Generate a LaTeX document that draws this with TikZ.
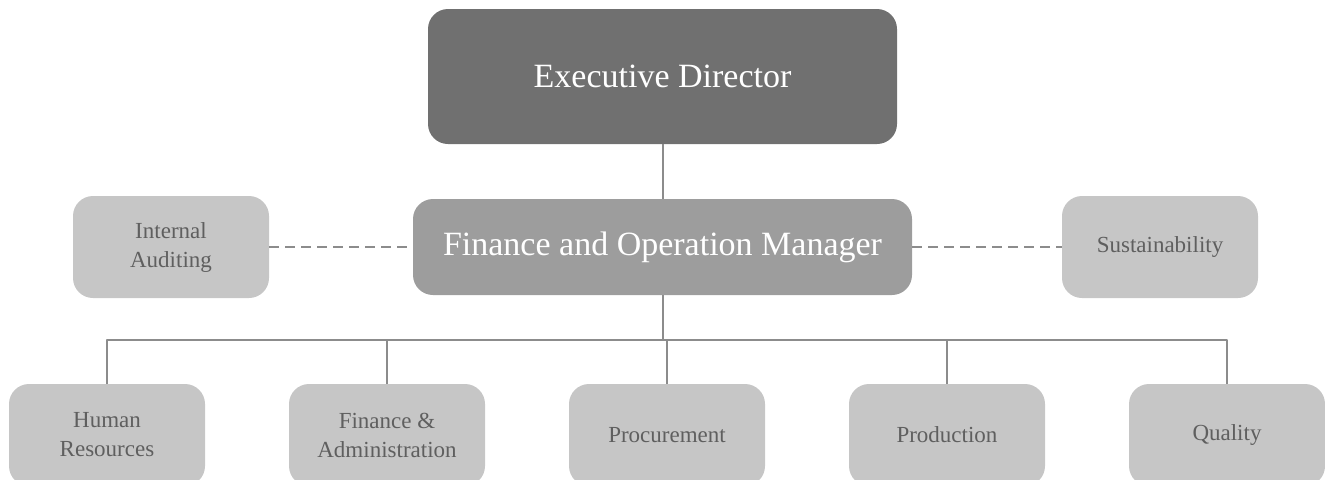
\documentclass[tikz,border=0pt]{standalone}
\usepackage{fontspec}
\setmainfont{Liberation Serif}
\definecolor{dark}{HTML}{707070}
\definecolor{mid}{HTML}{9D9D9D}
\definecolor{light}{HTML}{C6C6C6}
\definecolor{ink}{HTML}{5F5F5F}
\definecolor{wire}{HTML}{8C8C8C}
\tikzset{
  box/.style={rounded corners=10pt, inner sep=0pt, align=center},
  head/.style={box, fill=dark, text=white, minimum width=234.5pt, minimum height=67.5pt,
    font=\fontsize{17}{20}\selectfont},
  manager/.style={box, fill=mid, text=white, minimum width=249.5pt, minimum height=48pt,
    font=\fontsize{17}{20}\selectfont},
  unit/.style={box, fill=light, text=ink, minimum width=98pt, minimum height=51pt,
    font=\fontsize{11.5}{14.5}\selectfont},
  link/.style={draw=wire, line width=1pt},
  advice/.style={link, dash pattern=on 5pt off 3pt}
}
\begin{document}
\begin{tikzpicture}[x=0.5pt, y=-0.5pt, line join=round]
\clip (0,0) rectangle (1325,479);
\useasboundingbox (0,0) rectangle (1325,479);
% top of the chart
\node[head] (ed) at (662.5,76.5) {Executive Director};
\node[manager] (fom) at (662.5,247) {Finance and Operation Manager};
\node[unit] (ia) at (171,247) {Internal\\Auditing};
\node[unit] (sus) at (1160,247) {Sustainability};
\draw[link] (ed) -- (fom);
\draw[advice] (ia) -- (fom);
\draw[advice] (fom) -- (sus);
% departments
\foreach \n/\t [count=\i from 0] in {hr/{Human\\Resources}, fa/{Finance \&\\Administration}, pc/Procurement, pd/Production, ql/Quality}
  \node[unit] (\n) at (107+280*\i,435) {\t};
\coordinate (bus) at (fom.south |- 0,340);
\draw[link] (fom) -- (bus);
\draw[link] (hr.north) -- (hr.north |- bus) -- (ql.north |- bus) -- (ql.north);
\foreach \n in {fa,pc,pd}
  \draw[link] (\n.north) -- (\n.north |- bus);
\end{tikzpicture}
\end{document}
